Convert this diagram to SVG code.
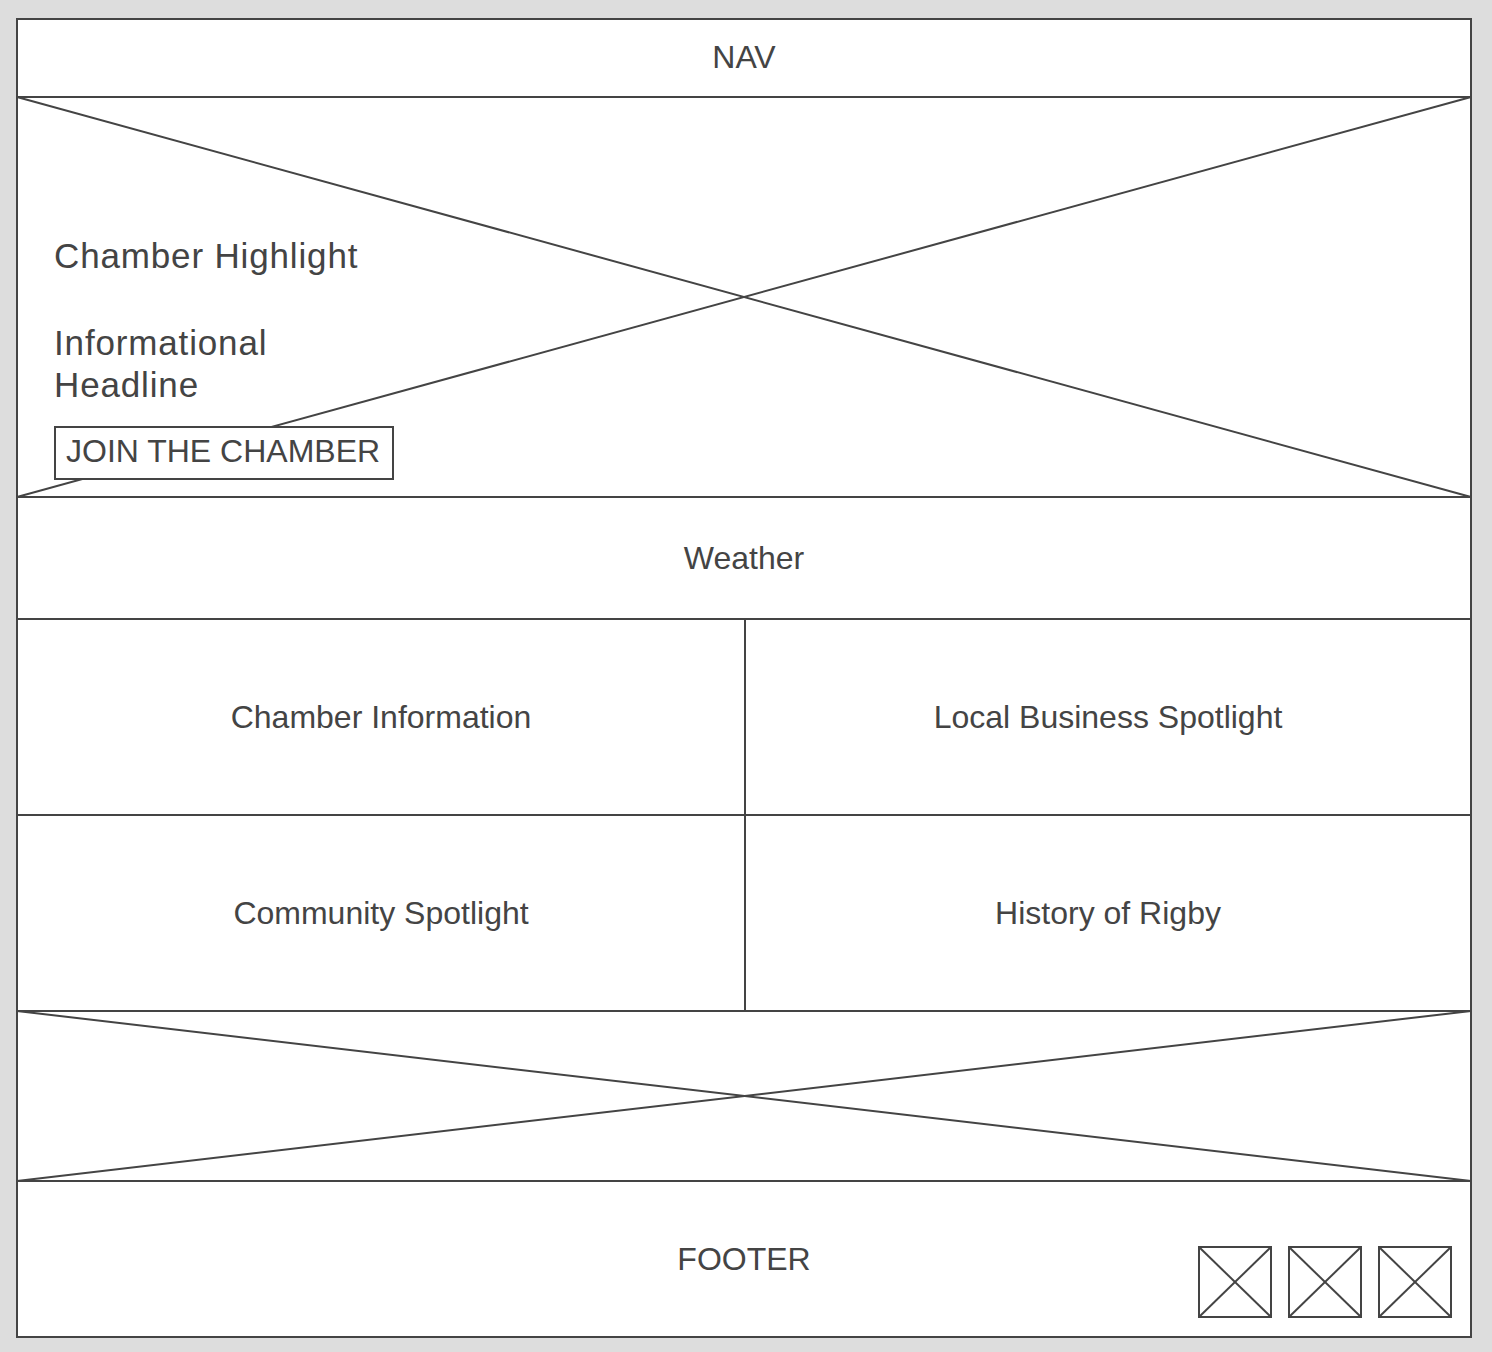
<svg xmlns="http://www.w3.org/2000/svg" width="1492" height="1352" viewBox="0 0 1492 1352">
<style>
.ln{stroke:#444;stroke-width:2;fill:none}
.box{stroke:#444;stroke-width:2;fill:#fff}
.lbl{font-family:"Liberation Sans",Arial,sans-serif;font-size:32px;fill:#444;text-anchor:middle}
.hero{font-family:"Liberation Sans",Arial,sans-serif;font-size:35px;letter-spacing:0.85px;fill:#444}
.btn{font-family:"Liberation Sans",Arial,sans-serif;font-size:32px;fill:#444}
</style>
<rect x="0" y="0" width="1492" height="1352" fill="#dddddd"/>
<rect x="17" y="19" width="1454" height="1318" class="box"/>
<g id="nav">
<rect x="17" y="19" width="1454" height="78" class="box"/>
<text x="744" y="68" class="lbl">NAV</text>
</g>
<g id="hero">
<rect x="17" y="97" width="1454" height="400" class="box"/>
<line x1="17" y1="97" x2="1471" y2="497" class="ln"/>
<line x1="17" y1="497" x2="1471" y2="97" class="ln"/>
<text x="54" y="268" class="hero">Chamber Highlight</text>
<text x="54" y="355" class="hero">Informational</text>
<text x="54" y="397" class="hero">Headline</text>
</g>
<g id="join-button">
<rect x="55" y="427" width="338" height="52" class="box"/>
<text x="66" y="462" class="btn">JOIN THE CHAMBER</text>
</g>
<g id="weather">
<rect x="17" y="497" width="1454" height="122" class="box"/>
<text x="744" y="569" class="lbl">Weather</text>
</g>
<g id="chamber-information">
<rect x="17" y="619" width="728" height="196" class="box"/>
<text x="381" y="728" class="lbl">Chamber Information</text>
</g>
<g id="local-business-spotlight">
<rect x="745" y="619" width="726" height="196" class="box"/>
<text x="1108" y="728" class="lbl">Local Business Spotlight</text>
</g>
<g id="community-spotlight">
<rect x="17" y="815" width="728" height="196" class="box"/>
<text x="381" y="924" class="lbl">Community Spotlight</text>
</g>
<g id="history-of-rigby">
<rect x="745" y="815" width="726" height="196" class="box"/>
<text x="1108" y="924" class="lbl">History of Rigby</text>
</g>
<g id="banner">
<rect x="17" y="1011" width="1454" height="170" class="box"/>
<line x1="17" y1="1011" x2="1471" y2="1181" class="ln"/>
<line x1="17" y1="1181" x2="1471" y2="1011" class="ln"/>
</g>
<g id="footer">
<rect x="17" y="1181" width="1454" height="156" class="box"/>
<text x="744" y="1270" class="lbl">FOOTER</text>
</g>
<g id="icon-1">
<rect x="1199" y="1247" width="72" height="70" class="box"/>
<line x1="1199" y1="1247" x2="1271" y2="1317" class="ln"/>
<line x1="1199" y1="1317" x2="1271" y2="1247" class="ln"/>
</g>
<g id="icon-2">
<rect x="1289" y="1247" width="72" height="70" class="box"/>
<line x1="1289" y1="1247" x2="1361" y2="1317" class="ln"/>
<line x1="1289" y1="1317" x2="1361" y2="1247" class="ln"/>
</g>
<g id="icon-3">
<rect x="1379" y="1247" width="72" height="70" class="box"/>
<line x1="1379" y1="1247" x2="1451" y2="1317" class="ln"/>
<line x1="1379" y1="1317" x2="1451" y2="1247" class="ln"/>
</g>
</svg>
